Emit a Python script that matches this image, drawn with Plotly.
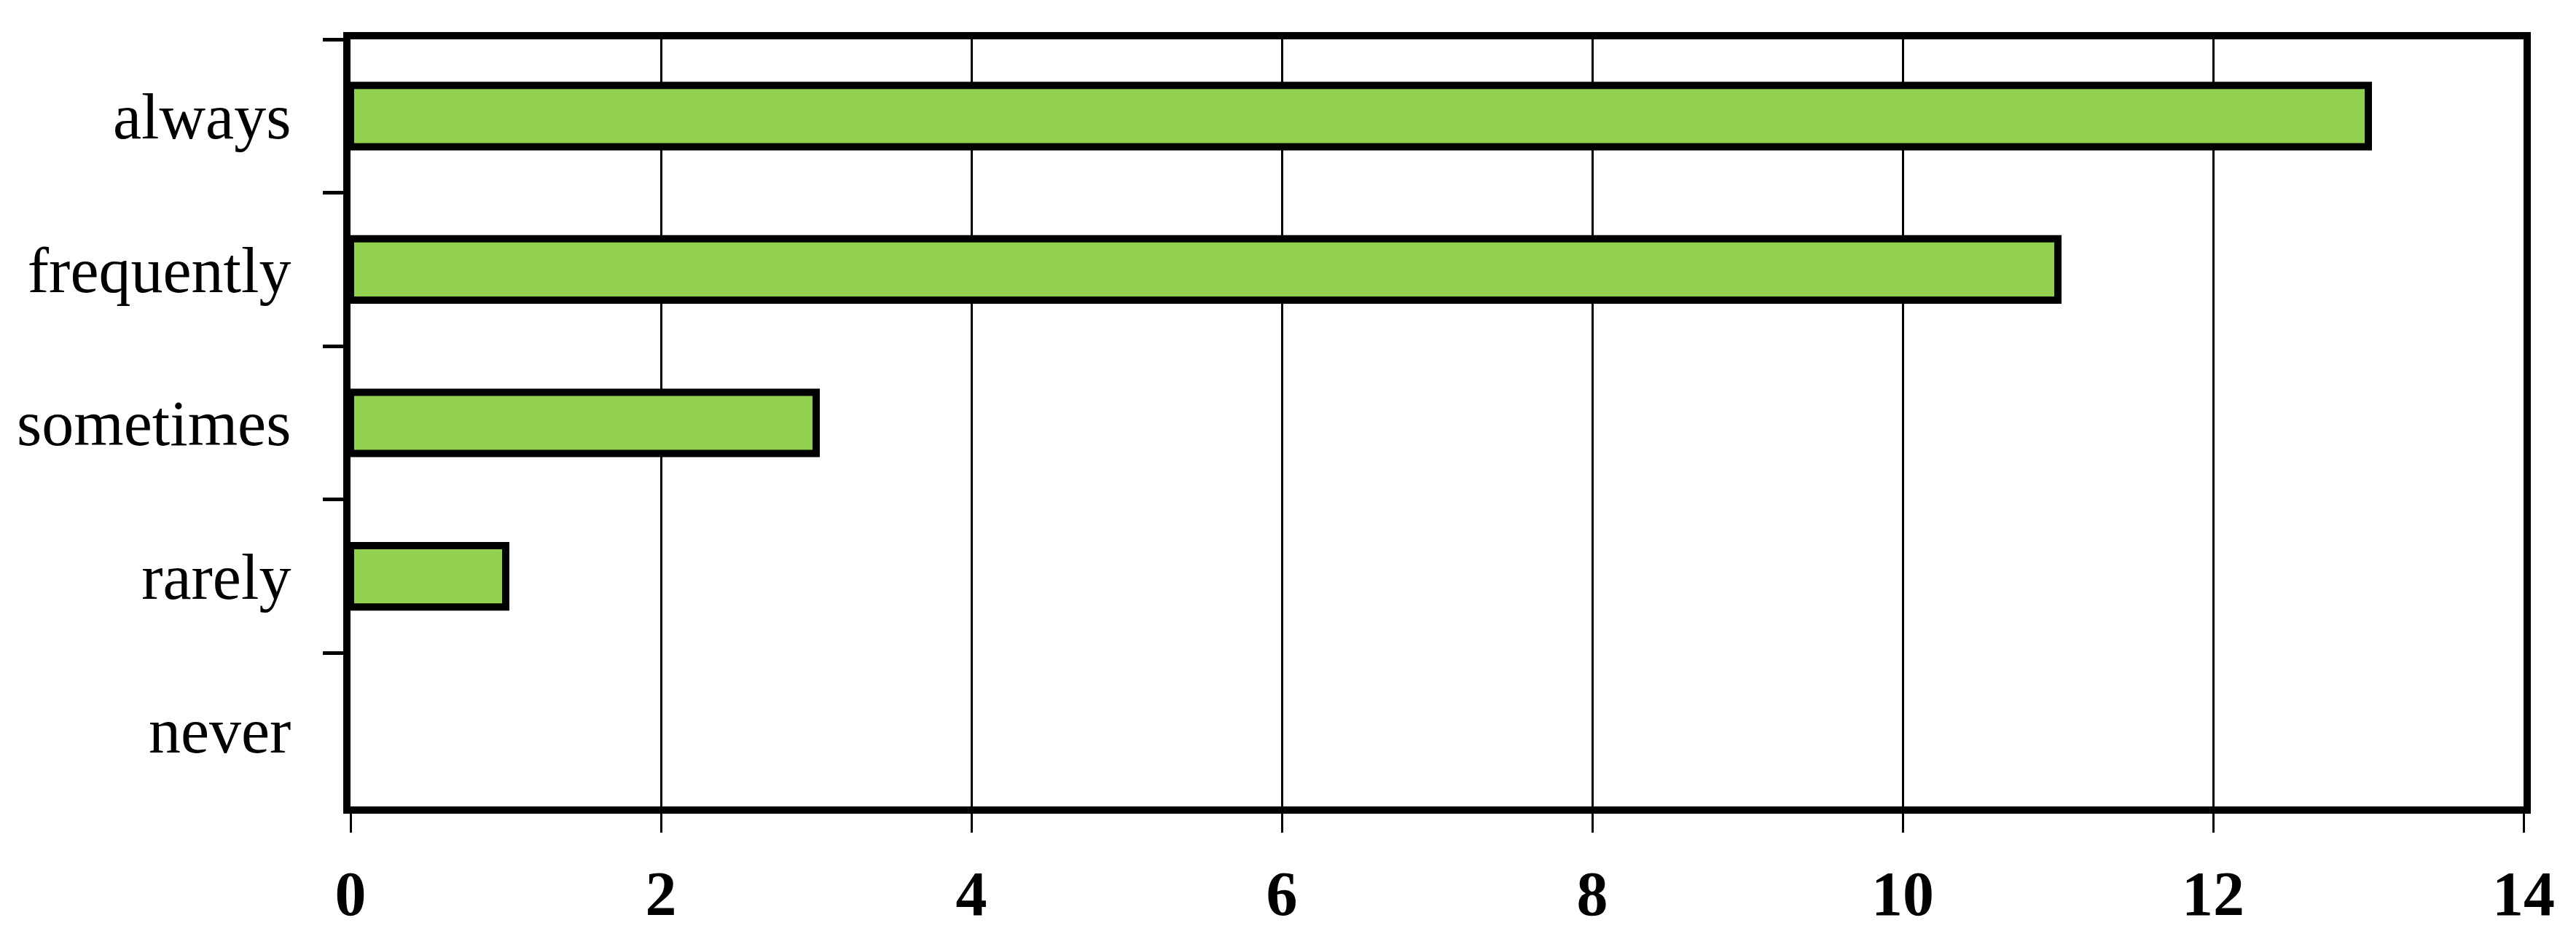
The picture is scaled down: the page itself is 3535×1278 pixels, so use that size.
import plotly.graph_objects as go

# survey answers, top to bottom as in the chart
categories = ["always", "frequently", "sometimes", "rarely", "never"]
counts = [13, 11, 3, 1, 0]
x_ticks = [0, 2, 4, 6, 8, 10, 12, 14]

BAR_GREEN = "#92D050"
SERIF = "Liberation Serif, Times New Roman, serif"

# an empty bar should not leave a stub of outline on the axis
outline_widths = [10 if v > 0 else 0 for v in counts]

fig = go.Figure()
fig.add_trace(
    go.Bar(
        x=counts,
        y=categories,
        orientation="h",
        marker=dict(color=BAR_GREEN, line=dict(color="black", width=outline_widths)),
        hoverinfo="skip",
        showlegend=False,
    )
)

fig.update_layout(
    width=3535,
    height=1278,
    margin=dict(l=473, r=80, t=46, b=179),
    paper_bgcolor="white",
    plot_bgcolor="white",
    bargap=0.6,
    font=dict(family=SERIF, color="black"),
)

fig.update_xaxes(
    range=[0, 14],
    tickvals=x_ticks,
    ticktext=[str(v) for v in x_ticks],
    tickfont=dict(family=SERIF, size=86, color="black", weight="bold"),
    automargin=False,
    layer="above traces",
    showgrid=True,
    gridcolor="black",
    gridwidth=3,
    zeroline=False,
    showline=True,
    linecolor="black",
    linewidth=10,
    mirror=True,
    ticks="outside",
    ticklen=26,
    tickwidth=3,
    tickcolor="black",
    ticklabelstandoff=10,
)

fig.update_yaxes(
    categoryorder="array",
    categoryarray=categories,
    autorange="reversed",
    tickson="boundaries",
    tickfont=dict(family=SERIF, size=88, color="black"),
    automargin=False,
    layer="above traces",
    showgrid=False,
    zeroline=False,
    showline=True,
    linecolor="black",
    linewidth=10,
    mirror=True,
    ticks="outside",
    ticklen=28,
    tickwidth=5,
    tickcolor="black",
    ticklabelstandoff=54,
)

fig.write_html("out.html", config={"displayModeBar": False})
